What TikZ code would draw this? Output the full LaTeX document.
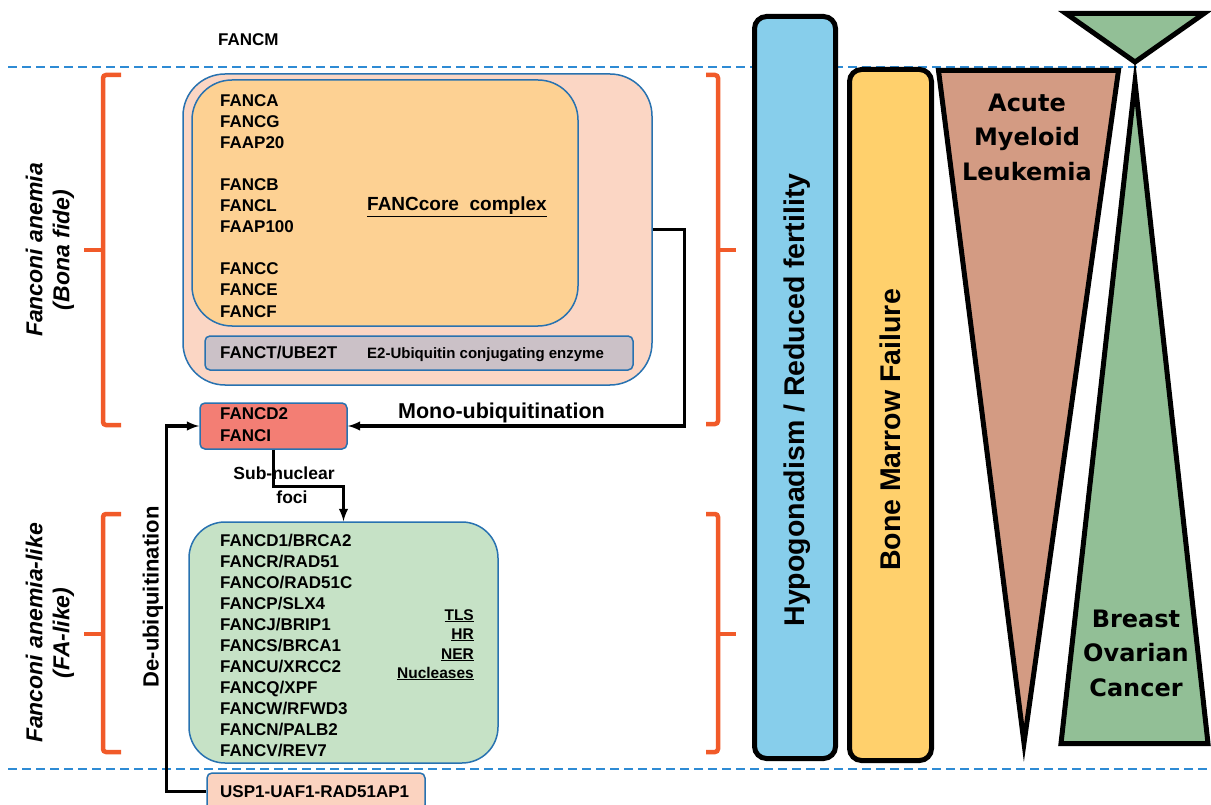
\documentclass[tikz,border=0pt]{standalone}
\usepackage{fontspec}
\setmainfont{Liberation Sans}
\newfontfamily\widefont{DejaVu Sans}
\usetikzlibrary{shapes,positioning,arrows,calc}
\definecolor{linkblue}{HTML}{2E8BD4}
\definecolor{edgeblue}{HTML}{2872B0}
\definecolor{bracered}{HTML}{F15A29}
\definecolor{corepeach}{HTML}{FBD6C4}
\definecolor{coreorange}{HTML}{FDD193}
\definecolor{ubegray}{HTML}{CBC1C7}
\definecolor{dtwored}{HTML}{F37E74}
\definecolor{likegreen}{HTML}{C6E2C6}
\definecolor{uspeach}{HTML}{FBD3C0}
\definecolor{hypoblue}{HTML}{87CEEB}
\definecolor{bmfyellow}{HTML}{FFD06C}
\definecolor{amlbrown}{HTML}{D39B83}
\definecolor{cancergreen}{HTML}{92BF96}

\begin{document}
\begin{tikzpicture}[
    x=1pt,
    y=-1pt,
    box/.style ={
        rectangle,
        draw=edgeblue,
        line width=1.5pt,
        inner sep=0pt
    },
    gene/.style ={
        anchor=base west,
        inner sep=0pt,
        font=\fontsize{17}{20}\selectfont\bfseries
    },
    role/.style ={
        anchor=base east,
        inner sep=0pt,
        font=\fontsize{15.5}{19}\selectfont\bfseries
    },
    conn/.style ={
        -latex,
        line width=3.2pt,
        black
    },
    brace/.style ={
        bracered,
        line width=4.5pt,
        rounded corners=3pt
    },
    sep/.style ={
        linkblue,
        line width=2.5pt,
        dash pattern=on 9pt off 5pt
    },
    bar/.style ={
        draw=black,
        line width=5pt,
        rounded corners=12pt
    },
    tri/.style ={
        draw=black,
        line width=5pt,
        line join=miter,
        miter limit=20
    },
    side/.style ={
        rotate=90,
        align=center,
        inner sep=0pt,
        font=\fontsize{23}{27}\selectfont\bfseries\itshape
    },
    disease/.style ={
        align=center,
        inner sep=0pt,
        font=\widefont\bfseries\fontsize{24}{34.5}\selectfont
    }
    ]
    \useasboundingbox (0,0) rectangle (1211,805);

    \draw[sep] (8,67) -- (1211,67);
    \draw[sep] (8,769) -- (1211,769);

    \node[gene] (FANCM) at (218,46) {FANCM};

    % FANCcore complex
    \node[box, fill=corepeach, rounded corners=42pt, minimum width=469pt, minimum height=311pt] (core) at (417.5,229.5) {};
    \node[box, fill=coreorange, rounded corners=40pt, minimum width=386pt, minimum height=246pt] (inner) at (385,203) {};
    \node[box, fill=ubegray, rounded corners=5pt, minimum width=428pt, minimum height=34pt] (ube) at (419,353) {};
    \foreach \name/ \yy in {FANCA/107, FANCG/128, FAAP20/149, FANCB/191, FANCL/212, FAAP100/233,
                            FANCC/275, FANCE/296, FANCF/317}
        \node[gene] (\name) at (220,\yy) {\name};
    \node[gene, font=\fontsize{19}{22}\selectfont\bfseries] (corelabel) at (367,211) {\underline{FANCcore\ \ complex}};
    \node[gene] (FANCT) at (220,359) {FANCT/UBE2T};
    \node[gene, font=\fontsize{15}{18}\selectfont\bfseries] (e2) at (367,359) {E2-Ubiquitin conjugating enzyme};

    % ID2 complex
    \node[box, fill=dtwored, rounded corners=5pt, minimum width=147pt, minimum height=46pt] (fancd2) at (273.5,426) {};
    \node[gene] (FANCD2) at (220,419) {FANCD2};
    \node[gene] (FANCI) at (220,441) {FANCI};

    % FA-like
    \node[box, fill=likegreen, rounded corners=36pt, minimum width=309pt, minimum height=241pt] (falike) at (343.5,642.5) {};
    \foreach \gid/ \alias/ \yy in {FANCD1/BRCA2/546, FANCR/RAD51/567, FANCO/RAD51C/588, FANCP/SLX4/609,
                                   FANCJ/BRIP1/630, FANCS/BRCA1/651, FANCU/XRCC2/672, FANCQ/XPF/693,
                                   FANCW/RFWD3/714, FANCN/PALB2/735, FANCV/REV7/756}
        \node[gene] (\gid) at (220,\yy) {\gid/\alias};
    \foreach \role/ \yy in {TLS/620, HR/639, NER/659, Nucleases/678}
        \node[role] (\role) at (474,\yy) {\underline{\role}};

    \node[box, fill=uspeach, rounded corners=5pt, minimum width=218pt, minimum height=37pt] (usp) at (316,791.5) {};
    \node[gene] (USP1) at (220,797) {USP1-UAF1-RAD51AP1};

    % connectors
    \draw[conn] (core.east) -- ++(32,0) |- (fancd2.east);
    \draw[conn] (fancd2.south) -- ++(0,37) -| (falike.north);
    \draw[conn] (usp.west) -- ++(-40,0) |- (fancd2.west);
    \node[gene, font=\fontsize{21.5}{24}\selectfont\bfseries] (mono) at (398,418) {Mono-ubiquitination};
    \node[inner sep=0pt, font=\fontsize{17.5}{20}\selectfont\bfseries] (subnuc) at (284,473) {Sub-nuclear};
    \node[inner sep=0pt, font=\fontsize{17.5}{20}\selectfont\bfseries] (foci) at (292,497) {foci};
    \node[rotate=90, inner sep=0pt, font=\fontsize{22}{24}\selectfont\bfseries] (deubi) at (153,597) {De-ubiquitination};

    % braces
    \draw[brace] (121,75) -| (103,425) -- (121,425);
    \draw[brace] (103,250) -- (84,250);
    \draw[brace] (706,75) -| (718,424) -- (706,424);
    \draw[brace] (718,250) -- (736,250);
    \draw[brace] (121,514) -| (103,752) -- (121,752);
    \draw[brace] (103,634) -- (84,634);
    \draw[brace] (706,514) -| (718,752) -- (706,752);
    \draw[brace] (718,634) -- (736,634);
    \node[side] (bona) at (50,250) {Fanconi anemia\\(Bona fide)};
    \node[side] (like) at (50,633) {Fanconi anemia-like\\(FA-like)};

    % phenotypes
    \draw[bar, fill=hypoblue] (754.5,16.5) rectangle (835.5,758.5);
    \draw[bar, fill=bmfyellow] (849.5,69.5) rectangle (931.5,760.5);
    \node[rotate=90, inner sep=0pt, font=\fontsize{28.5}{30}\selectfont\bfseries] (hypo) at (797,400) {Hypogonadism / Reduced fertility};
    \node[rotate=90, inner sep=0pt, font=\fontsize{28.5}{30}\selectfont\bfseries] (bmf) at (890,430) {Bone Marrow Failure};
    \draw[tri, fill=amlbrown] (938.5,70.5) -- (1118.5,70.5) -- (1024,743) -- cycle;
    \draw[tri, fill=cancergreen] (1066,13.5) -- (1204,13.5) -- (1135,62) -- cycle;
    \draw[tri, fill=cancergreen] (1135,82) -- (1208,743.5) -- (1061,743.5) -- cycle;
    \node[disease] (aml) at (1027,137) {Acute\\Myeloid\\Leukemia};
    \node[disease] (cancer) at (1136,653) {Breast\\Ovarian\\Cancer};
\end{tikzpicture}
\end{document}
